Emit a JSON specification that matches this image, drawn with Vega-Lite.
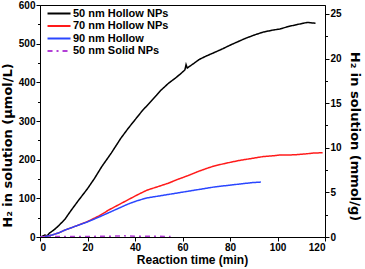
{
  "$schema": "https://vega.github.io/schema/vega-lite/v6.json",
  "autosize": {"type": "none"},
  "width": 285,
  "height": 232,
  "padding": {"left": 40, "top": 5, "right": 40, "bottom": 32},
  "background": "white",
  "config": {
    "font": "Liberation Sans",
    "view": {"stroke": "black", "strokeWidth": 1},
    "axis": {"labelFont": "Liberation Sans", "titleFont": "Liberation Sans", "labelFontWeight": "bold", "titleFontWeight": "bold", "labelColor": "black", "titleColor": "black", "domainColor": "black", "tickColor": "black", "grid": false, "labelFontSize": 10, "titleFontSize": 12}
  },
  "datasets": {
    "main": [
      {"t":0,"v":0,"s":"50 nm Hollow NPs"},{"t":1,"v":2,"s":"50 nm Hollow NPs"},{"t":2,"v":5,"s":"50 nm Hollow NPs"},{"t":3,"v":3,"s":"50 nm Hollow NPs"},{"t":4,"v":10,"s":"50 nm Hollow NPs"},{"t":6,"v":19,"s":"50 nm Hollow NPs"},{"t":8,"v":30,"s":"50 nm Hollow NPs"},{"t":10.5,"v":46,"s":"50 nm Hollow NPs"},{"t":13,"v":68,"s":"50 nm Hollow NPs"},{"t":16,"v":93,"s":"50 nm Hollow NPs"},{"t":20,"v":125,"s":"50 nm Hollow NPs"},{"t":23,"v":152,"s":"50 nm Hollow NPs"},{"t":26,"v":182,"s":"50 nm Hollow NPs"},{"t":30,"v":217,"s":"50 nm Hollow NPs"},{"t":34,"v":255,"s":"50 nm Hollow NPs"},{"t":37,"v":280,"s":"50 nm Hollow NPs"},{"t":40,"v":303,"s":"50 nm Hollow NPs"},{"t":43,"v":326,"s":"50 nm Hollow NPs"},{"t":46,"v":346,"s":"50 nm Hollow NPs"},{"t":49,"v":366,"s":"50 nm Hollow NPs"},{"t":51,"v":380,"s":"50 nm Hollow NPs"},{"t":54,"v":397,"s":"50 nm Hollow NPs"},{"t":57,"v":411,"s":"50 nm Hollow NPs"},{"t":59,"v":421,"s":"50 nm Hollow NPs"},{"t":61,"v":432,"s":"50 nm Hollow NPs"},{"t":61.5,"v":446,"s":"50 nm Hollow NPs"},{"t":62,"v":437,"s":"50 nm Hollow NPs"},{"t":65,"v":450,"s":"50 nm Hollow NPs"},{"t":67,"v":459,"s":"50 nm Hollow NPs"},{"t":70,"v":468,"s":"50 nm Hollow NPs"},{"t":73,"v":476,"s":"50 nm Hollow NPs"},{"t":77,"v":487,"s":"50 nm Hollow NPs"},{"t":80,"v":496,"s":"50 nm Hollow NPs"},{"t":84,"v":507,"s":"50 nm Hollow NPs"},{"t":87,"v":515,"s":"50 nm Hollow NPs"},{"t":91,"v":524,"s":"50 nm Hollow NPs"},{"t":94,"v":530,"s":"50 nm Hollow NPs"},{"t":98,"v":535,"s":"50 nm Hollow NPs"},{"t":101,"v":538,"s":"50 nm Hollow NPs"},{"t":105,"v":545,"s":"50 nm Hollow NPs"},{"t":108,"v":549,"s":"50 nm Hollow NPs"},{"t":111,"v":553,"s":"50 nm Hollow NPs"},{"t":112.5,"v":555,"s":"50 nm Hollow NPs"},{"t":114,"v":554,"s":"50 nm Hollow NPs"},{"t":116,"v":553,"s":"50 nm Hollow NPs"},
      {"t":0,"v":0,"s":"70 nm Hollow NPs"},{"t":2,"v":1,"s":"70 nm Hollow NPs"},{"t":5,"v":5,"s":"70 nm Hollow NPs"},{"t":8,"v":11,"s":"70 nm Hollow NPs"},{"t":10.5,"v":18,"s":"70 nm Hollow NPs"},{"t":15,"v":28,"s":"70 nm Hollow NPs"},{"t":20,"v":40,"s":"70 nm Hollow NPs"},{"t":25,"v":55,"s":"70 nm Hollow NPs"},{"t":29,"v":70,"s":"70 nm Hollow NPs"},{"t":33,"v":83,"s":"70 nm Hollow NPs"},{"t":37,"v":96,"s":"70 nm Hollow NPs"},{"t":41,"v":109,"s":"70 nm Hollow NPs"},{"t":45,"v":121,"s":"70 nm Hollow NPs"},{"t":50,"v":131,"s":"70 nm Hollow NPs"},{"t":54,"v":139,"s":"70 nm Hollow NPs"},{"t":58,"v":149,"s":"70 nm Hollow NPs"},{"t":62,"v":158,"s":"70 nm Hollow NPs"},{"t":66,"v":168,"s":"70 nm Hollow NPs"},{"t":70,"v":177,"s":"70 nm Hollow NPs"},{"t":73,"v":183,"s":"70 nm Hollow NPs"},{"t":77,"v":189,"s":"70 nm Hollow NPs"},{"t":80,"v":193,"s":"70 nm Hollow NPs"},{"t":84,"v":198,"s":"70 nm Hollow NPs"},{"t":87,"v":201,"s":"70 nm Hollow NPs"},{"t":91,"v":205,"s":"70 nm Hollow NPs"},{"t":94,"v":208,"s":"70 nm Hollow NPs"},{"t":98,"v":210,"s":"70 nm Hollow NPs"},{"t":101,"v":212,"s":"70 nm Hollow NPs"},{"t":105,"v":212,"s":"70 nm Hollow NPs"},{"t":108,"v":213,"s":"70 nm Hollow NPs"},{"t":112,"v":215,"s":"70 nm Hollow NPs"},{"t":115,"v":217,"s":"70 nm Hollow NPs"},{"t":119,"v":218,"s":"70 nm Hollow NPs"},
      {"t":0,"v":0,"s":"90 nm Hollow"},{"t":2,"v":1,"s":"90 nm Hollow"},{"t":5,"v":5,"s":"90 nm Hollow"},{"t":8,"v":11,"s":"90 nm Hollow"},{"t":10.5,"v":18,"s":"90 nm Hollow"},{"t":15,"v":28,"s":"90 nm Hollow"},{"t":20,"v":39,"s":"90 nm Hollow"},{"t":25,"v":52,"s":"90 nm Hollow"},{"t":29,"v":63,"s":"90 nm Hollow"},{"t":33,"v":74,"s":"90 nm Hollow"},{"t":37,"v":85,"s":"90 nm Hollow"},{"t":41,"v":94,"s":"90 nm Hollow"},{"t":45,"v":101,"s":"90 nm Hollow"},{"t":50,"v":106,"s":"90 nm Hollow"},{"t":54,"v":110,"s":"90 nm Hollow"},{"t":58,"v":114,"s":"90 nm Hollow"},{"t":62,"v":118,"s":"90 nm Hollow"},{"t":66,"v":122,"s":"90 nm Hollow"},{"t":70,"v":126,"s":"90 nm Hollow"},{"t":73,"v":129,"s":"90 nm Hollow"},{"t":77,"v":132,"s":"90 nm Hollow"},{"t":80,"v":134,"s":"90 nm Hollow"},{"t":84,"v":137,"s":"90 nm Hollow"},{"t":87,"v":139,"s":"90 nm Hollow"},{"t":90,"v":141,"s":"90 nm Hollow"},{"t":93,"v":142,"s":"90 nm Hollow"},
      {"t":0,"v":0,"s":"50 nm Solid NPs"},{"t":5,"v":1,"s":"50 nm Solid NPs"},{"t":10,"v":1,"s":"50 nm Solid NPs"},{"t":15,"v":1,"s":"50 nm Solid NPs"},{"t":20,"v":1,"s":"50 nm Solid NPs"},{"t":25,"v":2,"s":"50 nm Solid NPs"},{"t":30,"v":2,"s":"50 nm Solid NPs"},{"t":35,"v":3,"s":"50 nm Solid NPs"},{"t":40,"v":2,"s":"50 nm Solid NPs"},{"t":45,"v":2,"s":"50 nm Solid NPs"},{"t":50,"v":2,"s":"50 nm Solid NPs"},{"t":55,"v":1,"s":"50 nm Solid NPs"}
    ],
    "right": [{"t":0,"m":0},{"t":0,"m":26}]
  },
  "layer": [
    {
      "data": {"name": "main"},
      "mark": {"type": "line", "strokeWidth": 1.5, "clip": true},
      "encoding": {
        "x": {"field": "t", "type": "quantitative", "scale": {"domain": [0, 120], "nice": false},
          "axis": {"title": "Reaction time (min)", "titleFontSize": 12, "titlePadding": 2, "titleX": 152, "values": [0,10,20,30,40,50,60,70,80,90,100,110,120],
            "labelExpr": "datum.value % 20 === 0 ? datum.label : ''",
            "tickSize": {"condition": {"test": "datum.value % 20 === 0", "value": 4}, "value": 2.5}, "labelPadding": 1}},
        "y": {"field": "v", "type": "quantitative", "scale": {"domain": [0, 600], "nice": false},
          "axis": {"title": "H₂ in solution (μmol/L)", "titleFont": "DejaVu Sans", "titleFontSize": 13, "titlePadding": 4, "titleY": 140, "values": [0,50,100,150,200,250,300,350,400,450,500,550,600],
            "labelExpr": "datum.value % 100 === 0 ? datum.label : ''",
            "tickSize": {"condition": {"test": "datum.value % 100 === 0", "value": 4}, "value": 2.5}, "labelPadding": 1}},
        "color": {"field": "s", "type": "nominal",
          "scale": {"domain": ["50 nm Hollow NPs", "70 nm Hollow NPs", "90 nm Hollow", "50 nm Solid NPs"], "range": ["#000000", "#ff1a1a", "#2a46ff", "#b23fd6"]},
          "legend": {"title": null, "orient": "none", "legendX": 6.5, "legendY": 2, "padding": 0, "symbolType": "M-1,0H3.2", "symbolSize": 120, "symbolStrokeWidth": 2, "labelFontWeight": "bold", "labelFontSize": 11, "labelFont": "Liberation Sans", "labelColor": "black", "rowPadding": 0.5, "labelOffset": 13.5}},
        "strokeDash": {"field": "s", "type": "nominal",
          "scale": {"domain": ["50 nm Hollow NPs", "70 nm Hollow NPs", "90 nm Hollow", "50 nm Solid NPs"], "range": [[1,0],[1,0],[1,0],[5,4,2,4]]},
          "legend": {"title": null, "orient": "none", "legendX": 6.5, "legendY": 2, "padding": 0, "symbolType": "M-1,0H3.2", "symbolSize": 120, "symbolStrokeWidth": 2, "labelFontWeight": "bold", "labelFontSize": 11, "labelFont": "Liberation Sans", "labelColor": "black", "rowPadding": 0.5, "labelOffset": 13.5}}
      }
    },
    {
      "data": {"name": "right"},
      "mark": {"type": "point", "opacity": 0},
      "encoding": {
        "x": {"field": "t", "type": "quantitative", "scale": {"domain": [0, 120], "nice": false}},
        "y": {"field": "m", "type": "quantitative", "scale": {"domain": [0, 26], "nice": false},
          "axis": {"orient": "right", "title": "H₂ in solution (mmol/g)", "titleFont": "DejaVu Sans", "titleFontSize": 13, "titlePadding": 6, "titleY": 131, "values": [0,2.5,5,7.5,10,12.5,15,17.5,20,22.5,25],
            "labelExpr": "datum.value % 5 === 0 ? datum.label : ''",
            "tickSize": {"condition": {"test": "datum.value % 5 === 0", "value": 4}, "value": 2.5}, "labelPadding": 1}}
      }
    }
  ],
  "resolve": {"scale": {"y": "independent"}}
}
